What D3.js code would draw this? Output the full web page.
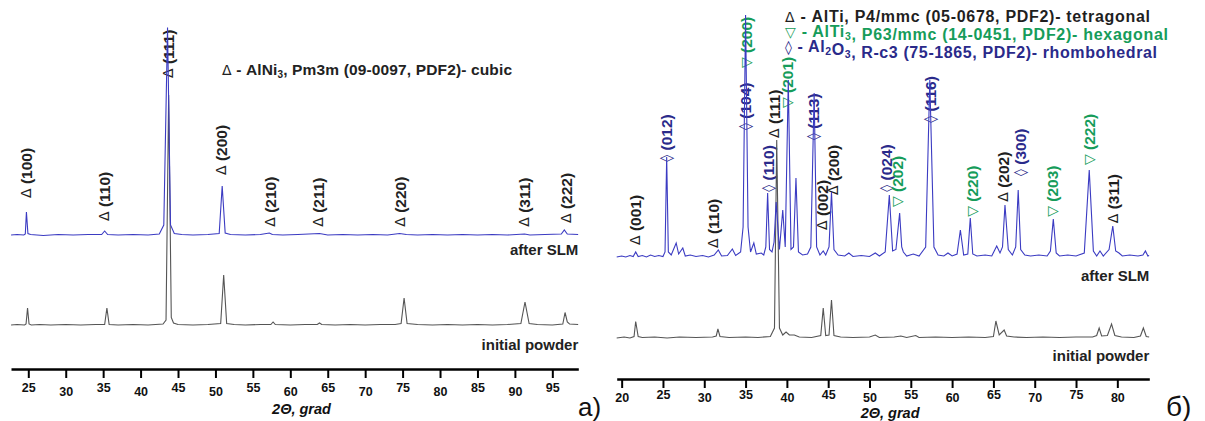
<!DOCTYPE html>
<html><head><meta charset="utf-8">
<script src="https://cdn.jsdelivr.net/npm/d3@7"></script>
<style>
html,body{margin:0;padding:0;background:#fff;}
text{font-family:"Liberation Sans",Arial,sans-serif;}
</style></head>
<body>
<script>
// ---------- DATA ----------
const leftTicks  = [25,30,35,40,45,50,55,60,65,70,75,80,85,90,95];
const rightTicks = [20,25,30,35,40,45,50,55,60,65,70,75,80];

// Panel a) AlNi3 — [2θ, intensity a.u.]
const leftPowder = [[22.7,0],[23.5,2],[24.5,0],[24.7,4],[24.9,68],[25.1,4],[25.4,0],[26.5,2],[28,0],[30,2],[32,0],[34,2],[35.2,2],[35.5,68],[35.8,2],[37,0],[39,2],[41,0],[43,4],[43.4,20],[43.75,920],[44.1,30],[44.4,8],[45,2],[47,0],[49,2],[50.7,6],[51.1,200],[51.5,6],[52.5,2],[54,0],[56,2],[57.4,2],[57.7,12],[58,2],[60,0],[62,2],[63.6,2],[63.9,8],[64.2,2],[66,0],[68,2],[70,0],[72,2],[74,2],[74.8,6],[75.2,108],[75.6,6],[77,2],[79,0],[81,2],[83,0],[85,2],[87,0],[89,2],[90.8,6],[91.35,92],[91.9,6],[93,2],[95,0],[96.4,4],[96.7,50],[97.0,12],[97.3,4],[98.45,2]];
const leftSLM = [[22.7,0],[23.5,2],[24.4,0],[24.6,4],[24.75,92],[24.95,6],[25.3,2],[27,-2],[29,2],[31,0],[33,2],[34.8,2],[35.2,16],[35.6,2],[37,0],[39,2],[41,0],[42.5,4],[43.1,40],[43.6,830],[44.0,40],[44.5,6],[45.5,2],[47,0],[49,2],[50.5,6],[50.9,196],[51.3,8],[52,2],[54,0],[56,2],[57.2,8],[57.6,2],[59,0],[61,2],[63.9,6],[65,0],[67,2],[69,0],[71,2],[73,0],[74.6,6],[75.5,2],[77,0],[79,2],[81,0],[83,2],[85,0],[87,2],[89,0],[91.3,4],[92,0],[94,2],[96.2,4],[96.6,20],[97.0,4],[98.45,2]];
// reflections: [hkl, 2θ, label level]
const leftHkl = [["(100)",24.7,508],["(110)",35.1,416],["(111)",43.67,988],["(200)",50.75,600],["(210)",57.3,393],["(211)",63.7,393],["(220)",74.65,393],["(311)",91.15,393],["(222)",96.8,408]];
const leftLegend = ["Δ - AlNi", "3", ", Pm3m (09-0097, PDF2)- cubic"];

// Panel б) AlTi
const rightPowder = [[19.4,0],[20.3,4],[21,0],[21.5,6],[21.7,66],[22,6],[22.5,2],[24,4],[25.5,0],[27,4],[29,2],[31,4],[31.45,8],[31.65,36],[31.9,6],[33,2],[35,4],[36.5,2],[38,6],[38.5,40],[38.77,792],[39.1,40],[39.5,12],[39.9,24],[40.3,12],[40.9,12],[41.5,4],[43,2],[44.1,10],[44.4,120],[44.7,10],[45.1,12],[45.4,152],[45.7,10],[46.5,4],[48,2],[50,4],[50.7,12],[51.2,2],[53,4],[53.8,8],[54.5,2],[55.6,10],[56,2],[58,4],[60,2],[62,4],[64,2],[65,6],[65.3,68],[65.7,12],[66.3,32],[66.6,8],[67.5,4],[69,2],[71,4],[73,2],[75,4],[77,4],[77.5,10],[77.8,40],[78.1,8],[78.8,10],[79.3,56],[79.7,10],[80.5,4],[82,2],[82.8,8],[83.15,40],[83.5,6],[83.85,4]];
const rightSLM = [[19.4,0],[20,4],[20.5,0],[21,6],[21.4,2],[21.7,20],[22,2],[22.5,6],[23,0],[23.5,8],[24,2],[24.5,6],[25,2],[25.25,20],[25.45,400],[25.65,20],[26.0,8],[26.6,56],[26.9,12],[27.4,36],[27.7,4],[28.3,8],[29,2],[29.8,6],[30.5,0],[31.2,8],[31.7,28],[32.1,4],[32.8,6],[33.4,32],[33.8,6],[34.4,20],[34.7,120],[35.0,968],[35.3,120],[35.6,20],[36.0,56],[36.3,12],[36.9,16],[37.2,8],[37.45,40],[37.67,256],[37.9,30],[38.2,20],[38.45,60],[38.7,220],[39.1,30],[39.5,188],[39.8,40],[40.17,708],[40.5,30],[40.8,40],[41.1,316],[41.4,20],[41.9,8],[42.5,12],[42.9,40],[43.3,656],[43.6,40],[44.0,8],[44.4,24],[44.7,8],[45.1,40],[45.4,260],[45.7,30],[46.2,8],[47,4],[47.5,16],[48,2],[49,6],[50,2],[50.7,16],[51.2,4],[51.9,20],[52.4,248],[52.8,24],[53.2,30],[53.65,176],[53.9,40],[54.1,20],[54.5,4],[55.3,12],[56,4],[56.8,40],[57.3,708],[57.8,40],[58.3,8],[59,4],[59.5,16],[60,4],[60.6,12],[61.0,108],[61.4,8],[61.9,12],[62.2,156],[62.5,12],[63,4],[64,8],[64.8,4],[65.4,44],[65.8,16],[66.1,40],[66.4,208],[66.8,30],[67.3,8],[67.7,40],[68.0,268],[68.3,30],[68.8,8],[69.5,4],[70.5,8],[71.5,4],[71.9,24],[72.25,152],[72.6,16],[73,4],[74,8],[75,4],[76,16],[76.6,348],[77.1,24],[77.5,4],[77.9,24],[78.3,4],[79.0,30],[79.45,124],[79.8,24],[80.2,16],[80.6,4],[81.5,8],[82.5,4],[83.1,8],[83.4,24],[83.7,4],[83.85,6]];
// [phase, hkl, 2θ, label level]
const rightHkl = [["AlTi","(001)",21.6,372],["Al2O3","(012)",25.36,705],["AlTi","(110)",31.1,360],["Al2O3","(104)",34.93,832],["AlTi3","(200)",35.0,1080],["Al2O3","(110)",37.75,585],["AlTi","(111)",38.44,800],["AlTi3","(201)",39.98,920],["Al2O3","(113)",43.2,792],["AlTi","(002)",44.2,432],["AlTi","(200)",45.6,572],["Al2O3","(024)",52.0,585],["AlTi3","(202)",53.33,524],["Al2O3","(116)",57.32,861],["AlTi3","(220)",62.37,485],["AlTi","(202)",66.2,545],["Al2O3","(300)",68.2,648],["AlTi3","(203)",72.13,485],["AlTi3","(222)",76.57,692],["AlTi","(311)",79.5,459]];
const phases = ["AlTi","AlTi3","Al2O3"];
const phaseSymbols = ["Δ","▽","◊"];
const phaseLegend = [
  [["AlTi",""],[", P4/mmc (05-0678, PDF2)- tetragonal",""]],
  [["AlTi","3"],[", P63/mmc (14-0451, PDF2)- hexagonal",""]],
  [["Al","2"],["O","3"],[", R-c3 (75-1865, PDF2)- rhombohedral",""]]
];
const seriesNames = ["after SLM","initial powder"];
const axisTitle = "2Θ, grad";
const panelNames = ["a)","б)"];

// ---------- STYLE / LAYOUT ----------
const blue = "#3b3bc2", gray = "#555555";
const phaseColors = {"AlTi":"#1f1f1f","AlTi3":"#169c5a","Al2O3":"#2a2a8a"};
const LBL = 15.5, SYM = 14;
const legendWidths = [365, 383, 372];

const svg = d3.select("body").append("svg").attr("width",1205).attr("height",421);

function panel(cfg){
  const x = d3.scaleLinear().domain(cfg.xdom).range(cfg.xr);
  const y = d3.scaleLinear().domain([0,1300]).range([cfg.base, cfg.base-325]);
  const g = svg.append("g");
  const ax = g.append("g").attr("transform",`translate(0,${cfg.axisY})`)
    .call(d3.axisBottom(x).tickValues(cfg.ticks).tickSize(9).tickSizeOuter(0));
  ax.select(".domain").attr("stroke","#000").attr("stroke-width",2.6);
  ax.selectAll(".tick line").attr("stroke","#000").attr("stroke-width",2);
  ax.selectAll(".tick text").attr("font-family","Liberation Sans, Arial, sans-serif")
    .attr("font-weight","bold").attr("font-size",12.5).attr("fill","#111")
    .attr("dy", null)
    .attr("y", d => (d%10===0 ? cfg.lblLow : cfg.lblHigh));
  g.append("text").attr("x",x(cfg.titleAt)).attr("y",cfg.axisTitleY)
    .attr("text-anchor","middle").attr("font-weight","bold").attr("font-style","italic")
    .attr("font-size",14.5).attr("fill","#111").text(axisTitle);
  cfg.labels.forEach(l=>{
    const t = g.append("text")
      .attr("transform",`translate(${x(l.pos)},${y(l.level)}) rotate(-90)`)
      .attr("dominant-baseline","central").attr("font-size",LBL).attr("fill",l.color);
    t.append("tspan").attr("font-weight","normal").attr("font-family","DejaVu Sans, sans-serif").attr("font-size",SYM).text(l.sym);
    t.append("tspan").attr("font-weight","bold").text(" "+l.hkl);
  });
  const line = off => d3.line().x(d=>x(d[0])).y(d=>y(d[1]+off));
  g.append("path").datum(cfg.powder).attr("d",line(0)).attr("fill","none").attr("stroke",gray).attr("stroke-width",1.1);
  g.append("path").datum(cfg.slm).attr("d",line(cfg.offset)).attr("fill","none").attr("stroke",blue).attr("stroke-width",1.1);
  g.append("text").attr("x",cfg.xr[1]).attr("y",y(cfg.offset)+cfg.nameDy[0]).attr("text-anchor","end")
    .attr("font-weight","bold").attr("font-size",15).attr("fill","#222").text(seriesNames[0]);
  g.append("text").attr("x",cfg.xr[1]).attr("y",y(0)+cfg.nameDy[1]).attr("text-anchor","end")
    .attr("font-weight","bold").attr("font-size",15).attr("fill","#222").text(seriesNames[1]);
  g.append("text").attr("x",cfg.pnX).attr("y",416).attr("font-family","Liberation Serif, Times New Roman, serif")
    .attr("font-size",cfg.pnSize).attr("fill","#111").text(cfg.pn);
  return {g,x,y};
}

const L = panel({xdom:[22.69,98.47], xr:[11,578.3], base:325, axisY:369, ticks:leftTicks,
  lblHigh:23, lblLow:26.5, axisTitleY:413.5, titleAt:61.5,
  labels:leftHkl.map(d=>({pos:d[1],level:d[2],hkl:d[0],sym:"Δ",color:"#222"})),
  powder:leftPowder, slm:leftSLM, offset:360, nameDy:[20,25], pn:panelNames[0], pnX:578, pnSize:26});

const R = panel({xdom:[19.4,83.87], xr:[616.7,1149.3], base:338, axisY:379, ticks:rightTicks,
  lblHigh:20, lblLow:22.5, axisTitleY:417.5, titleAt:52.5,
  labels:rightHkl.map(d=>({pos:d[2],level:d[3],hkl:d[1],sym:phaseSymbols[phases.indexOf(d[0])],color:phaseColors[d[0]]})),
  powder:rightPowder, slm:rightSLM, offset:324, nameDy:[24,23], pn:panelNames[1], pnX:1166, pnSize:28});

// left legend
{
  const t = L.g.append("text").attr("x",222).attr("y",75).attr("font-weight","bold").attr("font-size",15.5).attr("fill","#222")
    .attr("textLength",290).attr("lengthAdjust","spacing");
  t.append("tspan").attr("font-weight","normal").attr("font-family","DejaVu Sans, sans-serif").attr("font-size",14).text("Δ");
  t.append("tspan").text(leftLegend[0].slice(1));
  t.append("tspan").attr("font-size",10).attr("dy",3).text(leftLegend[1]);
  t.append("tspan").attr("dy",-3).text(leftLegend[2]);
}
// right legend
phaseLegend.forEach((parts,i)=>{
  const t = R.g.append("text").attr("x",785).attr("y",22+i*15.2).attr("font-weight","bold").attr("font-size",16).attr("fill",phaseColors[phases[i]])
    .attr("textLength",legendWidths[i]).attr("lengthAdjust","spacing");
  t.append("tspan").attr("font-weight","normal").attr("font-family","DejaVu Sans, sans-serif").attr("font-size",14).text(phaseSymbols[i]);
  t.append("tspan").text(" - ");
  parts.forEach(p=>{
    t.append("tspan").text(p[0]);
    if(p[1]) { t.append("tspan").attr("font-size",10.5).attr("dy",3).text(p[1]); t.append("tspan").attr("dy",-3).text(""); }
  });
});
</script>
</body></html>
